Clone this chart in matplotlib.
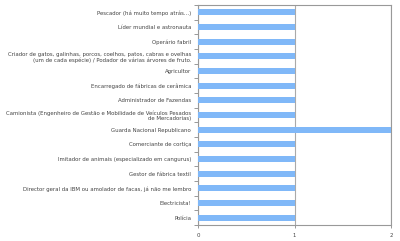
import numpy as np
import matplotlib
matplotlib.use('Agg')
import matplotlib.pyplot as plt

# categorias (de cima para baixo) e valores
categorias = [
    'Pescador (há muito tempo atrás...)',
    'Líder mundial e astronauta',
    'Operário fabril',
    'Criador de gatos, galinhas, porcos, coelhos, patos, cabras e ovelhas\n(um de cada espécie) / Podador de várias árvores de fruto.',
    'Agricultor',
    'Encarregado de fábricas de cerâmica',
    'Administrador de Fazendas',
    'Camionista (Engenheiro de Gestão e Mobilidade de Veículos Pesados\nde Mercadorias)',
    'Guarda Nacional Republicano',
    'Comerciante de cortiça',
    'Imitador de animais (especializado em cangurus)',
    'Gestor de fábrica textil',
    'Director geral da IBM ou amolador de facas, já não me lembro',
    'Electricista!',
    'Polícia',
]
valores = [1, 1, 1, 1, 1, 1, 1, 1, 2, 1, 1, 1, 1, 1, 1]
xticks = [0, 1, 2]

fig = plt.figure(figsize=(4.0, 2.41), dpi=100)
ax = fig.add_axes([198/400, 1 - 225/241, 193/400, 220/241])

y = np.arange(len(categorias))
ax.barh(y, valores, height=0.42, color='#80b8f8', zorder=3)
ax.set_xlim(0, 2)
ax.set_ylim(len(categorias) - 0.5, -0.5)

ax.set_yticks(y)
ax.set_yticklabels(categorias, fontsize=3.9, color='#444444', ha='right',
                   linespacing=1.15)
ax.set_yticks(np.arange(-0.5, len(categorias), 1), minor=True)
ax.tick_params(axis='y', which='major', length=0, pad=5)
ax.tick_params(axis='y', which='minor', length=3, color='#888888', width=0.6)

ax.set_xticks(xticks)
ax.set_xticklabels([str(v) for v in xticks], fontsize=3.9, color='#444444')
ax.tick_params(axis='x', length=2, color='#888888', width=0.6, pad=4)
ax.grid(axis='x', color='#aaaaaa', linewidth=0.8, zorder=0)

for s in ax.spines.values():
    s.set_color('#999999')
    s.set_linewidth(0.8)

fig.savefig('out.png', dpi=100)
